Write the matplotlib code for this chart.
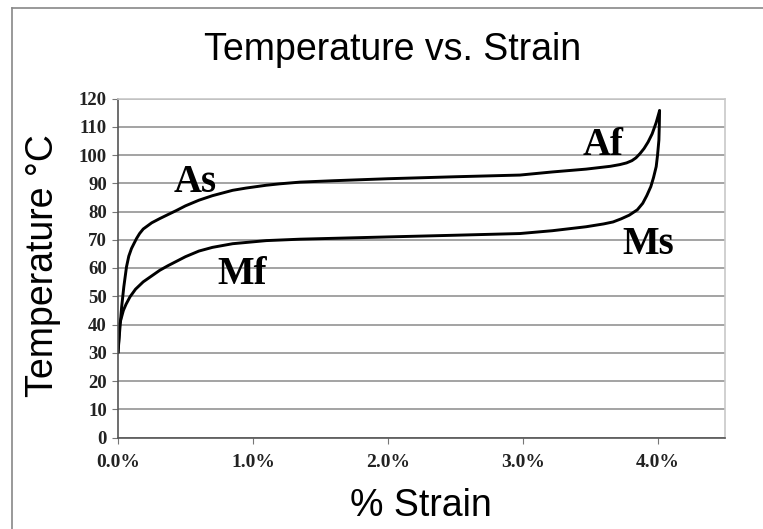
import matplotlib
matplotlib.use("Agg")
import matplotlib.pyplot as plt
from matplotlib.lines import Line2D
from matplotlib.ticker import FuncFormatter

# heating branch (As -> Af), strain in %
heat_strain = [0, 0.013, 0.027, 0.043, 0.063, 0.08, 0.10, 0.12, 0.137, 0.16, 0.187, 0.25,
               0.31, 0.37, 0.435, 0.5, 0.6, 0.7, 0.85, 0.95, 1.10, 1.2, 1.35, 1.6,
               2.0, 2.5, 2.98, 3.22, 3.47, 3.65, 3.72, 3.77, 3.81, 3.84, 3.87, 3.9,
               3.93, 3.96, 3.99, 4.015]
heat_temp = [30, 38, 46.2, 53.3, 60.4, 64.2, 66.9, 68.8, 70.4, 72.2, 73.8, 76.0,
             77.5, 78.9, 80.4, 82.0, 84.0, 85.6, 87.5, 88.3, 89.3, 89.8, 90.4, 90.9,
             91.6, 92.3, 92.9, 94.0, 95.0, 96.0, 96.6, 97.2, 98.0, 99.0, 100.5, 102.3,
             104.6, 107.5, 111.5, 115.7]

# cooling branch (Ms -> Mf)
cool_strain = [4.015, 4.013, 4.01, 4.0, 3.99, 3.97, 3.95, 3.92, 3.89, 3.85, 3.79, 3.73,
               3.67, 3.6, 3.47, 3.22, 2.98, 2.5, 2.0, 1.35, 1.10, 0.85, 0.7, 0.6,
               0.5, 0.435, 0.37, 0.31, 0.25, 0.187, 0.13, 0.089, 0.06, 0.04, 0.013, 0]
cool_temp = [115.7, 110.5, 105.3, 100.0, 95.9, 92.0, 88.8, 85.6, 82.9, 80.6, 78.7, 77.4,
             76.3, 75.6, 74.6, 73.2, 72.2, 71.6, 71.0, 70.2, 69.7, 68.6, 67.3, 66.0,
             64.0, 62.4, 60.8, 59.2, 57.2, 55.1, 52.5, 49.8, 47.2, 45, 40.3, 30]

labels = ["As", "Mf", "Af", "Ms"]
label_x = [0.57, 0.92, 3.60, 3.93]
label_y = [86.9, 54.5, 100.0, 65.1]

x_ticks = [0, 1, 2, 3, 4]
y_ticks = list(range(0, 121, 10))

W, H = 763, 529
fig = plt.figure(figsize=(W / 100, H / 100), dpi=100)
ax = fig.add_axes([118 / W, 1 - 437.5 / H, (725 - 118) / W, (437.5 - 98.5) / H])

serif = "Liberation Serif"
sans = "Liberation Sans"

ax.plot(heat_strain, heat_temp, color="black", lw=2.1, solid_joinstyle="round",
        solid_capstyle="round")
ax.plot(cool_strain, cool_temp, color="black", lw=2.1, solid_joinstyle="round",
        solid_capstyle="round")

for t, x, y in zip(labels, label_x, label_y):
    ax.text(x, y, t, family=serif, weight="bold", fontsize=28,
            ha="center", va="baseline")

ax.set_xlim(0, 4.5)
ax.set_ylim(0, 120)
ax.set_xticks(x_ticks)
ax.set_yticks(y_ticks)
ax.xaxis.set_major_formatter(FuncFormatter(lambda v, p: "%.1f%%" % v))
ax.yaxis.grid(True, color="#8a8a8a", lw=1.1)
ax.set_axisbelow(True)

for lab in ax.get_yticklabels():
    lab.set_fontsize(13.5)
for lab in ax.get_xticklabels():
    lab.set_fontsize(14)
for lab in ax.get_xticklabels() + ax.get_yticklabels():
    lab.set_family(serif)
    lab.set_weight("bold")
    lab.set_color("#222222")
ax.tick_params(axis="y", length=4, color="#777777", pad=4)
ax.tick_params(axis="x", length=4, color="#777777", pad=8)

ax.spines["left"].set_color("#555555")
ax.spines["bottom"].set_color("#555555")
ax.spines["top"].set_color("#c8c8c8")
ax.spines["right"].set_color("#c8c8c8")
for s in ax.spines.values():
    s.set_linewidth(1.2)

fig.text(393 / W, 1 - 60 / H, "Temperature vs. Strain", family=sans, fontsize=27,
         ha="center", va="baseline")
fig.text(421 / W, 1 - 516 / H, "% Strain", family=sans, fontsize=27,
         ha="center", va="baseline")
fig.text(53 / W, 1 - 266 / H, "Temperature °C", family=sans, fontsize=27,
         rotation=90, rotation_mode="anchor", ha="center", va="baseline")

# outer chart frame (only top and left edges visible)
fig.add_artist(Line2D([12 / W, 1], [1 - 8 / H, 1 - 8 / H], color="#888888", lw=1.2))
fig.add_artist(Line2D([12 / W, 12 / W], [0, 1 - 8 / H], color="#888888", lw=1.2))

fig.savefig("out.png", dpi=100)
